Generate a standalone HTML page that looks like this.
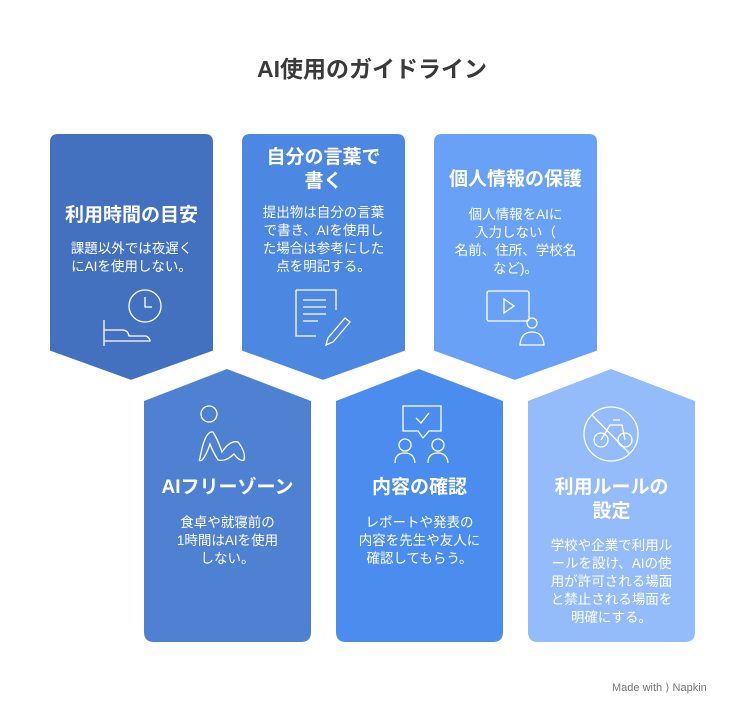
<!DOCTYPE html>
<html><head><meta charset="utf-8"><style>
body{margin:0;width:744px;height:716px;background:#fff;position:relative;overflow:hidden;font-family:"Liberation Sans","Noto Sans CJK JP",sans-serif}
.t{position:absolute;color:#fff;text-align:center;font-weight:bold;font-size:19px;line-height:24px}
.d{position:absolute;color:#fff;text-align:center;font-size:13.5px;line-height:18px}
</style></head><body>
<div style="position:absolute;top:50px;width:744px;text-align:center;font-size:23px;font-weight:bold;color:#3a3a3a">AI使用のガイドライン</div>
<svg width="744" height="716" style="position:absolute;left:0;top:0">
<g stroke-linejoin="round">
<path d="M227 369L311 401V632Q311 642 301 642H154Q144 642 144 632V401Z" fill="#4f81d3"/>
<path d="M419 369L503 401V632Q503 642 493 642H346Q336 642 336 632V401Z" fill="#4b8cef"/>
<path d="M611 369L695 401V632Q695 642 685 642H538Q528 642 528 632V401Z" fill="#94bcfb"/>
<path d="M58 132H205Q215 132 215 142V352L131 382L48 352V142Q48 132 58 132Z" fill="#4471bf" stroke="#fff" stroke-width="4"/>
<path d="M250 132H397Q407 132 407 142V352L323 382L240 352V142Q240 132 250 132Z" fill="#4c87e2" stroke="#fff" stroke-width="4"/>
<path d="M442 132H589Q599 132 599 142V352L515 382L432 352V142Q432 132 442 132Z" fill="#68a1f6" stroke="#fff" stroke-width="4"/>
</g>
<g fill="none" stroke="#fff" stroke-width="1.3">
<circle cx="145" cy="306" r="16"/><path d="M145 297V307H152M104 320V346M104 330H122Q128 330 129 336H146Q150 338 150 341H104"/>
<path d="M296 290H336V310M316 336H296V290M303 300H326M303 307H326M303 314H326M303 321H318M350 322L333 342L326 345L328 338L345 318Z"/>
<rect x="487" y="291" width="42" height="30" rx="2"/><path d="M504 299V313L514 306Z"/><circle cx="532" cy="323" r="5"/><path d="M520 345Q521 332 532 332Q543 332 544 345Z"/>
<circle cx="209" cy="414" r="8"/><path d="M200 458Q205 430 213 432Q218 440 222 452Q230 440 238 442Q246 452 244 460Q240 462 234 454Q226 462 218 460Q212 450 210 444Q206 456 202 460Q198 462 200 458Z"/>
<path d="M403 406H441V431H429L423 438L418 431H403Z"/><path d="M416 418L421 423L429 413"/><circle cx="405" cy="445" r="6"/><circle cx="438" cy="445" r="6"/><path d="M395 463Q395 453 405 453Q414 453 415 463M428 463Q428 453 438 453Q447 453 448 463"/>
<circle cx="611" cy="434" r="27"/><path d="M592 415L630 454"/><circle cx="601" cy="440" r="7"/><circle cx="625" cy="440" r="7"/><path d="M601 440L610 425H622L625 440M613 420H620"/>
</g>
</svg>
<div class="t" style="left:48px;width:167px;top:204px">利用時間の目安</div>
<div class="d" style="left:52px;width:159px;top:240px">課題以外では夜遅く<br>にAIを使用しない。</div>
<div class="t" style="left:240px;width:167px;top:146px">自分の言葉で<br>書く</div>
<div class="d" style="left:244px;width:159px;top:204px">提出物は自分の言葉<br>で書き、AIを使用し<br>た場合は参考にした<br>点を明記する。</div>
<div class="t" style="left:432px;width:167px;top:168px">個人情報の保護</div>
<div class="d" style="left:436px;width:159px;top:206px">個人情報をAIに<br>入力しない（<br>名前、住所、学校名<br>など)。</div>
<div class="t" style="left:144px;width:167px;top:476px">AIフリーゾーン</div>
<div class="d" style="left:148px;width:159px;top:514px">食卓や就寝前の<br>1時間はAIを使用<br>しない。</div>
<div class="t" style="left:336px;width:167px;top:476px">内容の確認</div>
<div class="d" style="left:340px;width:159px;top:514px">レポートや発表の<br>内容を先生や友人に<br>確認してもらう。</div>
<div class="t" style="left:528px;width:167px;top:476px">利用ルールの<br>設定</div>
<div class="d" style="left:532px;width:159px;top:537px">学校や企業で利用ル<br>ールを設け、AIの使<br>用が許可される場面<br>と禁止される場面を<br>明確にする。</div>
<div style="position:absolute;left:612px;top:681px;font-size:11px;color:#777">Made with ⟩ Napkin</div>
</body></html>
